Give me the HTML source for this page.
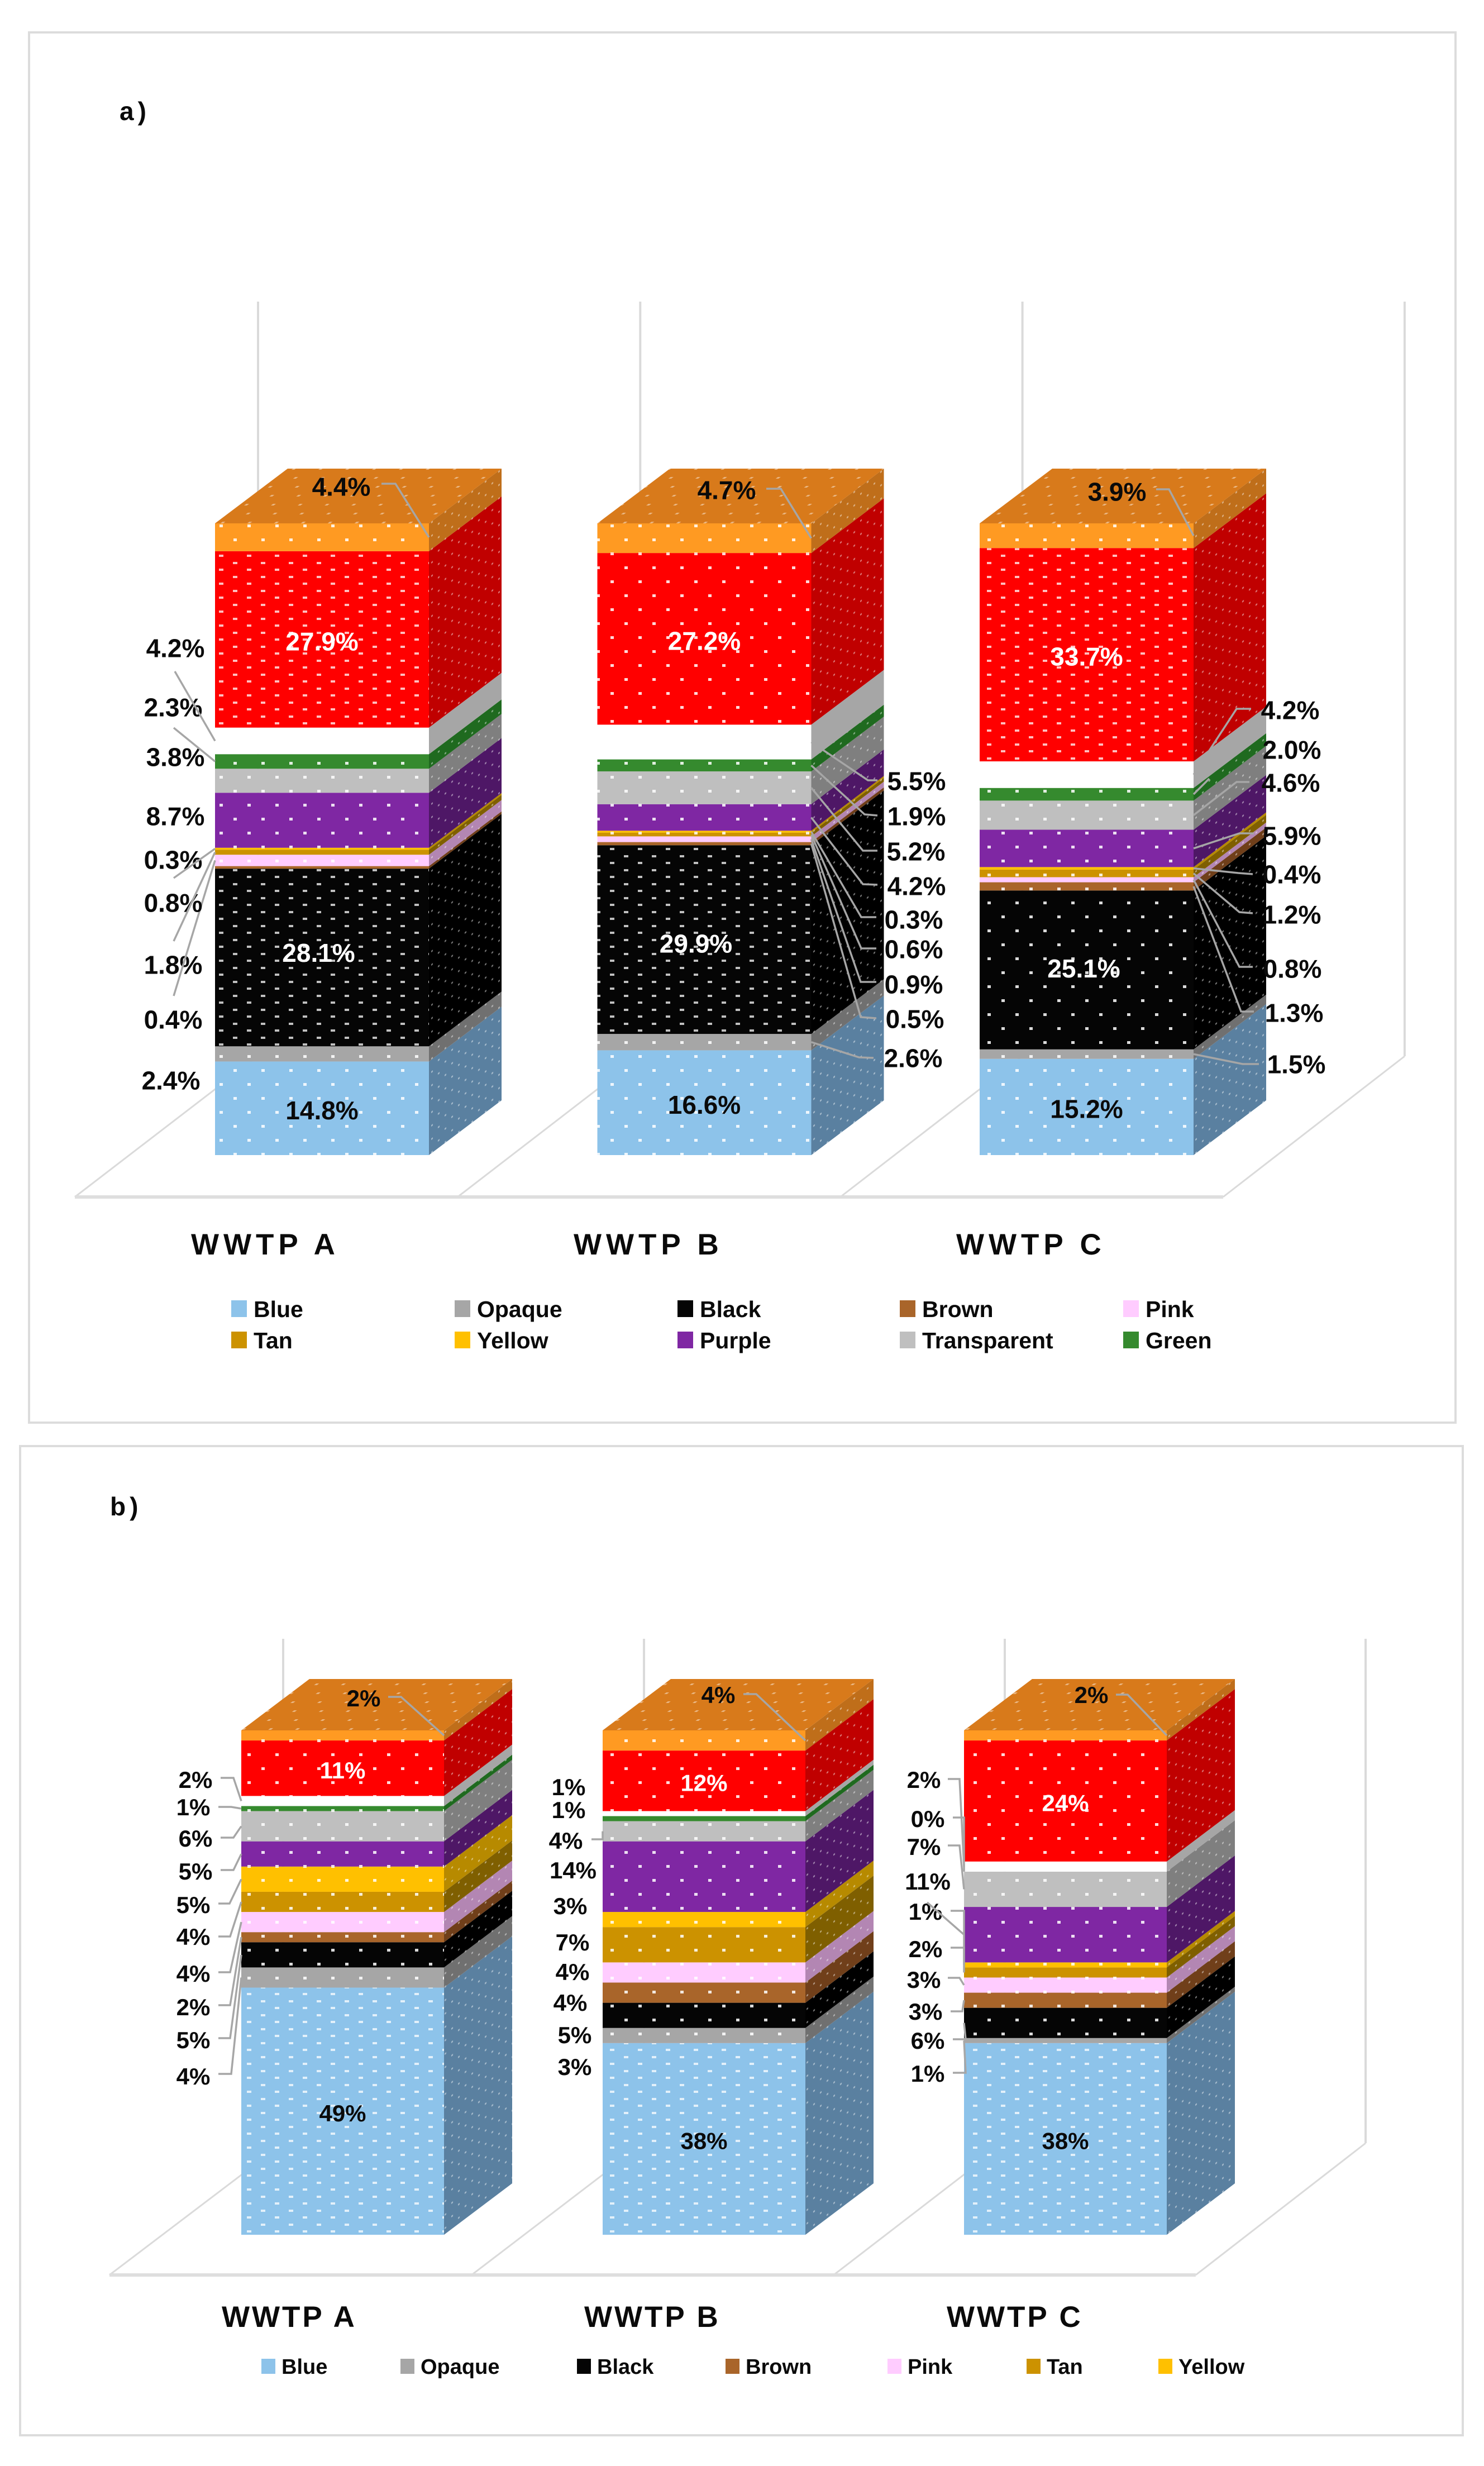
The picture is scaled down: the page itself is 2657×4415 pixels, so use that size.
<!DOCTYPE html>
<html lang="en">
<head>
<meta charset="utf-8">
<title>Stacked 3D colour composition charts</title>
<style>
html,body{margin:0;padding:0;background:#fff;}
svg{display:block;font-family:"Liberation Sans","DejaVu Sans",sans-serif;}
</style>
</head>
<body>
<svg id="chart-root" xmlns="http://www.w3.org/2000/svg" width="2657" height="4415" viewBox="0 0 2657 4415">
<defs>
<pattern id="dots-coarse" patternUnits="userSpaceOnUse" width="50" height="50" x="10" y="8">
<rect x="8" y="6" width="6" height="5" fill="#fff" opacity=".85"/>
<rect x="33" y="31" width="6" height="5" fill="#fff" opacity=".85"/>
</pattern>
<pattern id="dots-dense" patternUnits="userSpaceOnUse" width="50" height="25" x="10" y="2">
<rect x="7" y="4" width="8" height="4" fill="#fff" opacity=".75"/>
<rect x="32" y="16" width="8" height="4" fill="#fff" opacity=".75"/>
</pattern>
<pattern id="dots-side" patternUnits="userSpaceOnUse" width="24" height="24" patternTransform="skewY(-37)">
<rect x="4" y="4" width="3" height="3" fill="#fff" opacity=".45"/>
<rect x="16" y="16" width="3" height="3" fill="#fff" opacity=".45"/>
</pattern>
<pattern id="dots-top" patternUnits="userSpaceOnUse" width="48" height="32" patternTransform="skewX(-53)">
<rect x="6" y="6" width="5" height="3" fill="#fff" opacity=".45"/>
<rect x="30" y="22" width="5" height="3" fill="#fff" opacity=".45"/>
</pattern>
</defs>
</svg>
<script>
// ---------- DATA: panel a ----------
const aCategories = ['WWTP A', 'WWTP B', 'WWTP C'];
const aBlue = [14.8, 16.6, 15.2];
const aOpaque = [2.4, 2.6, 1.5];
const aBlack = [28.1, 29.9, 25.1];
const aBrown = [0.4, 0.5, 1.3];
const aPink = [1.8, 0.9, 0.8];
const aTan = [0.8, 0.6, 1.2];
const aYellow = [0.3, 0.3, 0.4];
const aPurple = [8.7, 4.2, 5.9];
const aTransparent = [3.8, 5.2, 4.6];
const aGreen = [2.3, 1.9, 2.0];
const aWhite = [4.2, 5.5, 4.2];
const aRed = [27.9, 27.2, 33.7];
const aOrange = [4.4, 4.7, 3.9];

// ---------- DATA: panel b ----------
const bCategories = ['WWTP A', 'WWTP B', 'WWTP C'];
const bBlue = [49, 38, 38];
const bOpaque = [4, 3, 1];
const bBlack = [5, 5, 6];
const bBrown = [2, 4, 3];
const bPink = [4, 4, 3];
const bTan = [4, 7, 2];
const bYellow = [5, 3, 1];
const bPurple = [5, 14, 11];
const bTransparent = [6, 4, 7];
const bGreen = [1, 1, 0];
const bWhite = [2, 1, 2];
const bRed = [11, 12, 24];
const bOrange = [2, 4, 2];

const seriesNames = ['Blue','Opaque','Black','Brown','Pink','Tan','Yellow','Purple','Transparent','Green','White','Red','Orange'];
const aLegendNames = ['Blue','Opaque','Black','Brown','Pink','Tan','Yellow','Purple','Transparent','Green'];
const bLegendNames = ['Blue','Opaque','Black','Brown','Pink','Tan','Yellow'];

// ---------- STYLE AND LAYOUT (not data) ----------
const frontColors = {Blue:'#8DC3EA',Opaque:'#A6A6A6',Black:'#050505',Brown:'#A9652A',Pink:'#FFCCFF',Tan:'#CC9200',Yellow:'#FFC000',Purple:'#7F27A3',Transparent:'#BFBFBF',Green:'#358A2E',White:'#FFFFFF',Red:'#FF0000',Orange:'#FF9A22'};
const sideColors = {Blue:'#5A80A0',Opaque:'#707070',Black:'#000000',Brown:'#703F1A',Pink:'#B386B3',Tan:'#7F5F00',Yellow:'#B78A00',Purple:'#4E1766',Transparent:'#7F7F7F',Green:'#1F6A1F',White:'#A6A6A6',Red:'#C00000',Orange:'#BF6E1A'};
const topColor = '#D87A1B';

const aLabelSpots = [
 {Opaque:[306,1934],Brown:[310,1825],Pink:[310,1727],Tan:[310,1616],Yellow:[310,1539],Purple:[314,1461],Transparent:[314,1355],Green:[310,1266],White:[314,1160],Orange:[611,871]},
 {Opaque:[1635,1894],Brown:[1638,1824],Pink:[1636,1762],Tan:[1636,1699],Yellow:[1636,1646],Purple:[1641,1586],Transparent:[1640,1524],Green:[1641,1461],White:[1641,1398],Orange:[1301,877]},
 {Opaque:[2321,1905],Brown:[2317,1813],Pink:[2314,1734],Tan:[2313,1637],Yellow:[2313,1565],Purple:[2313,1496],Transparent:[2311,1401],Green:[2313,1342],White:[2310,1271],Orange:[2000,880]}
];
const aLeaderElbows = [
 {White:[[313,1202]],Green:[[311,1303]],Yellow:[[311,1572]],Tan:[[311,1685]],Pink:[[311,1783]],Orange:[[683,866],[708,866]]},
 {White:[[1571,1397],[1554,1397]],Green:[[1571,1460],[1548,1458]],Transparent:[[1571,1523],[1545,1523]],Purple:[[1571,1584],[1545,1583]],Yellow:[[1569,1642],[1542,1642]],Tan:[[1569,1698],[1542,1698]],Pink:[[1569,1758],[1541,1758]],Brown:[[1569,1823],[1541,1821]],Opaque:[[1564,1894],[1538,1893]],Orange:[[1372,875],[1398,875]]},
 {White:[[2240,1269],[2214,1269]],Green:[[2165,1394]],Transparent:[[2237,1400],[2214,1400]],Purple:[[2245,1492],[2219,1492]],Yellow:[[2243,1565],[2217,1563]],Tan:[[2243,1635],[2219,1633]],Pink:[[2243,1731],[2219,1731]],Brown:[[2245,1811],[2222,1811]],Opaque:[[2254,1905],[2225,1905]],Orange:[[2070,876],[2093,876]]}
];
const bLabelSpots = [
 {Opaque:[346,3717],Black:[346,3652],Brown:[346,3593],Pink:[346,3533],Tan:[346,3467],Yellow:[346,3410],Purple:[350,3350],Transparent:[350,3291],Green:[346,3235],White:[350,3186],Orange:[651,3040]},
 {Opaque:[1029,3700],Black:[1029,3643],Brown:[1021,3585],Pink:[1025,3530],Tan:[1025,3477],Yellow:[1021,3412],Purple:[1026,3348],Transparent:[1013,3295],Green:[1018,3240],White:[1018,3199],Orange:[1286,3034]},
 {Opaque:[1661,3712],Black:[1661,3653],Brown:[1657,3601],Pink:[1654,3544],Tan:[1657,3489],Yellow:[1657,3422],Purple:[1661,3368],Transparent:[1654,3306],Green:[1661,3256],White:[1654,3186],Orange:[1954,3034]}
];
const bLeaderElbows = [
 {White:[[395,3183],[418,3183]],Green:[[391,3235],[414,3235]],Transparent:[[395,3290],[418,3290]],Purple:[[395,3348],[418,3348]],Yellow:[[391,3408],[411,3408]],Tan:[[391,3467],[412,3467]],Pink:[[391,3531],[412,3531]],Brown:[[391,3590],[412,3590]],Black:[[391,3649],[412,3649]],Opaque:[[391,3713],[414,3713]],Orange:[[695,3038],[718,3038]]},
 {Transparent:[[1059,3293],[1079,3293]],Orange:[[1331,3033],[1354,3033]]},
 {White:[[1697,3185],[1718,3185]],Green:[[1706,3254],[1726,3254]],Transparent:[[1697,3304],[1718,3304]],Purple:[[1660,3406]],Yellow:[[1702,3421],[1726,3421]],Tan:[[1702,3487],[1726,3487]],Pink:[[1697,3541],[1718,3541]],Brown:[[1702,3601],[1723,3601]],Black:[[1706,3651],[1729,3651]],Opaque:[[1706,3711],[1729,3711]],Orange:[[1998,3034],[2019,3034]]}
];

const NS = 'http://www.w3.org/2000/svg';
const root = document.getElementById('chart-root');

function make(tag, attrs, parent, text) {
  const n = document.createElementNS(NS, tag);
  for (const k in attrs) n.setAttribute(k, attrs[k]);
  if (text !== undefined) n.textContent = text;
  parent.appendChild(n);
  return n;
}
function slug(s) { return s.toLowerCase().replace(/[^a-z0-9]+/g, '-'); }
function pts(list) { return list.map(p => p[0] + ',' + p[1]).join(' '); }

function drawPanel(cfg) {
  const g = make('g', {}, root);
  
  

  const frame = make('rect', {x:cfg.frame[0], y:cfg.frame[1], width:cfg.frame[2]-cfg.frame[0], height:cfg.frame[3]-cfg.frame[1], fill:'#fff', stroke:'#DCDCDC', 'stroke-width':4}, g);
  
  

  const title = make('text', {x:cfg.titleX, y:cfg.titleY, 'font-size':46, 'font-weight':'bold', 'letter-spacing':7, fill:'#0a0a0a'}, g, cfg.id + ')');
  
  

  // floor and wall grid, one bay per category
  const n = cfg.categories.length;
  for (let i = 0; i <= n; i++) {
    const fx = cfg.floorX + i * cfg.floorStep;
    const bx = cfg.backX + i * cfg.backStep;
    const by = cfg.floorY - cfg.floorDy;
    const diag = make('line', {x1:fx, y1:cfg.floorY, x2:bx, y2:by, stroke:'#DADADA', 'stroke-width':3}, g);
    
    
    const wall = make('line', {x1:bx, y1:cfg.wallTop, x2:bx, y2:by, stroke:'#DADADA', 'stroke-width':4}, g);
    
    
  }
  const floor = make('line', {x1:cfg.floorX, y1:cfg.floorY, x2:cfg.floorX + n * cfg.floorStep, y2:cfg.floorY, stroke:'#DEDEDE', 'stroke-width':6}, g);
  
  

  // axis functions
  const xLeft = i => cfg.barX + i * cfg.barStep;
  const totals = cfg.categories.map((c, i) => seriesNames.reduce((t, s) => t + cfg.series[s][i], 0));
  const yAt = (i, cum) => cfg.bottom - (cum / totals[i]) * cfg.height;

  cfg.categories.forEach((cat, i) => {
    const bar = make('g', {}, g);
    
    
    const l = xLeft(i), r = l + cfg.barW;
    let cum = 0;
    const spans = {};
    seriesNames.forEach(s => {
      const v = cfg.series[s][i];
      const yb = yAt(i, cum), yt = yAt(i, cum + v);
      spans[s] = [yb, yt];
      cum += v;
      if (v <= 0) return;
      const sideShape = pts([[r, yb], [r + cfg.dx, yb - cfg.dy], [r + cfg.dx, yt - cfg.dy], [r, yt]]);
      const side = make('polygon', {points:sideShape, fill:sideColors[s]}, bar);
      
      
      const front = make('rect', {x:l, y:yt, width:cfg.barW, height:yb - yt, fill:frontColors[s]}, bar);
      
      
      if (s !== 'White') {
        const sideDots = make('polygon', {points:sideShape, fill:'url(#dots-side)'}, bar);
        
        
        const dense = cfg.dense[i].indexOf(s) >= 0;
        const frontDots = make('rect', {x:l, y:yt, width:cfg.barW, height:yb - yt, fill:dense ? 'url(#dots-dense)' : 'url(#dots-coarse)'}, bar);
        
        
      }
    });
    const yTop = yAt(i, cum);
    const topShape = pts([[l, yTop], [r, yTop], [r + cfg.dx, yTop - cfg.dy], [l + cfg.dx, yTop - cfg.dy]]);
    const topFace = make('polygon', {points:topShape, fill:topColor}, bar);
    
    
    const topDots = make('polygon', {points:topShape, fill:'url(#dots-top)'}, bar);
    
    

    // value labels
    const fmt = v => cfg.decimals ? v.toFixed(cfg.decimals) + '%' : v + '%';
    seriesNames.forEach(s => {
      const v = cfg.series[s][i];
      const mid = (spans[s][0] + spans[s][1]) / 2;
      let cx, cy;
      if (cfg.inside.indexOf(s) >= 0) {
        cx = (l + r) / 2 + (s === 'Black' ? cfg.blackNudge[i] : 0);
        cy = mid + (s === 'Black' ? cfg.blackLift[i] : 0) + 3;
      } else {
        cx = cfg.spots[i][s][0];
        cy = cfg.spots[i][s][1];
      }
      const light = s === 'Red' || (s === 'Black' && cfg.inside.indexOf('Black') >= 0);
      const label = make('text', {x:cx, y:cy + cfg.labelSize * 0.36, 'text-anchor':'middle', 'font-size':cfg.labelSize, 'font-weight':'bold', fill:light ? '#fff' : '#0a0a0a'}, g, fmt(v));
      
      

      const elbows = cfg.elbows[i][s];
      if (elbows) {
        const edge = (s === 'Orange' || cfg.rightSide[i]) ? r : l;
        const path = elbows.concat([[edge, mid]]);
        const leader = make('polyline', {points:pts(path), fill:'none', stroke:'#A6A6A6', 'stroke-width':3.5}, g);
        
        
      }
    });

    const catLabel = make('text', {x:cfg.catX + i * cfg.catStep, y:cfg.catY, 'font-size':53, 'font-weight':'bold', 'letter-spacing':cfg.catSpacing, fill:'#0a0a0a'}, g, cat);
    
    
  });

  // legend
  cfg.legend.forEach((s, k) => {
    const row = k < cfg.legendPerRow ? 0 : 1;
    const col = k - row * cfg.legendPerRow;
    const x = cfg.legendX[col];
    const base = cfg.legendY[row];
    const swatch = make('rect', {x:x, y:base - cfg.swatch, width:cfg.swatch - 2, height:cfg.swatch, fill:frontColors[s]}, g);
    
    
    const txt = make('text', {x:x + cfg.swatch + cfg.legendGap, y:base, 'font-size':cfg.legendSize, 'font-weight':'bold', fill:'#0a0a0a'}, g, s);
    
    
  });
}

drawPanel({
  id:'a', frame:[52,58,2606,2547], titleX:214, titleY:215,
  categories:aCategories,
  series:{Blue:aBlue,Opaque:aOpaque,Black:aBlack,Brown:aBrown,Pink:aPink,Tan:aTan,Yellow:aYellow,Purple:aPurple,Transparent:aTransparent,Green:aGreen,White:aWhite,Red:aRed,Orange:aOrange},
  barX:385, barStep:684.5, barW:383, dx:130, dy:98, bottom:2068, height:1131,
  floorX:134, floorStep:685.3, floorY:2143, backX:462, backStep:684.3, floorDy:252, wallTop:540,
  labelSize:46, decimals:1, inside:['Blue','Black','Red'], blackNudge:[-6,-15,-5], blackLift:[-12,4,-6],
  dense:[['Red','Black'],['Black'],['Red']],
  spots:aLabelSpots, elbows:aLeaderElbows, rightSide:[false,true,true],
  catX:342, catStep:685, catY:2246, catSpacing:8,
  legend:aLegendNames, legendPerRow:5, legendX:[414,814,1213,1611,2011], legendY:[2358,2414], swatch:30, legendGap:10, legendSize:41
});

drawPanel({
  id:'b', frame:[36,2589,2619,4360], titleX:197, titleY:2713,
  categories:bCategories,
  series:{Blue:bBlue,Opaque:bOpaque,Black:bBlack,Brown:bBrown,Pink:bPink,Tan:bTan,Yellow:bYellow,Purple:bPurple,Transparent:bTransparent,Green:bGreen,White:bWhite,Red:bRed,Orange:bOrange},
  barX:432, barStep:647, barW:363, dx:122, dy:92, bottom:4001, height:903,
  floorX:196, floorStep:648.3, floorY:4073, backX:507, backStep:646, floorDy:236, wallTop:2934,
  labelSize:42, decimals:0, inside:['Blue','Red'], blackNudge:[0,0,0], blackLift:[0,0,0],
  dense:[['Blue'],['Blue'],['Blue']],
  spots:bLabelSpots, elbows:bLeaderElbows, rightSide:[false,false,false],
  catX:397, catStep:649, catY:4166, catSpacing:4,
  legend:bLegendNames, legendPerRow:7, legendX:[468,717,1033,1299,1589,1838,2074], legendY:[4250,4250], swatch:27, legendGap:9, legendSize:38
});
</script>
</body>
</html>
